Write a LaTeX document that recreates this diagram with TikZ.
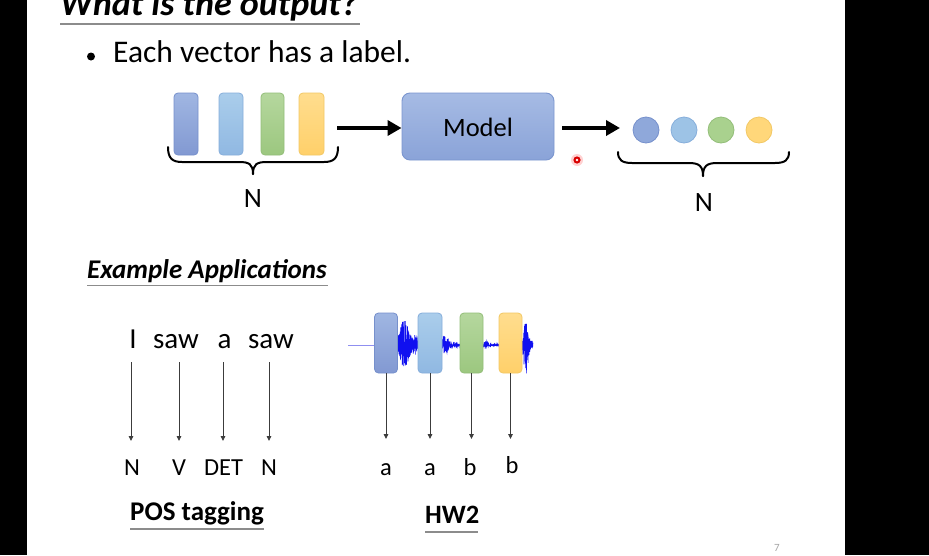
\documentclass[tikz,border=0pt]{standalone}
\usepackage{fontspec}
\setmainfont{Carlito}
\usetikzlibrary{arrows.meta}
\definecolor{cA}{HTML}{8FA8DA}
\definecolor{cAt}{HTML}{A0B6E2}
\definecolor{cAb}{HTML}{8299D2}
\definecolor{cAd}{HTML}{7690CC}
\definecolor{cB}{HTML}{9DC3E6}
\definecolor{cBt}{HTML}{AACDEB}
\definecolor{cBb}{HTML}{90B8E2}
\definecolor{cBd}{HTML}{86AEDB}
\definecolor{cC}{HTML}{A9D18E}
\definecolor{cCt}{HTML}{B5D79E}
\definecolor{cCb}{HTML}{9CC77F}
\definecolor{cCd}{HTML}{93BE79}
\definecolor{cD}{HTML}{FFD77A}
\definecolor{cDt}{HTML}{FFDD8E}
\definecolor{cDb}{HTML}{FFD06A}
\definecolor{cDd}{HTML}{F2C865}
\definecolor{mdl}{HTML}{97AEDD}
\definecolor{mdlt}{HTML}{A6BBE4}
\definecolor{mdlb}{HTML}{8AA3D8}
\definecolor{mdld}{HTML}{7B96CF}
\definecolor{ulgray}{HTML}{8C8C8C}
\definecolor{arrgray}{HTML}{3C3C3C}
\definecolor{wavecol}{HTML}{1010F0}
\definecolor{leadcol}{HTML}{8F8FF0}
\tikzset{
  vecbox/.style={rounded corners=4pt, line width=0.8pt},
  vecA/.style={vecbox, draw=cAd, top color=cAt, bottom color=cAb},
  vecB/.style={vecbox, draw=cBd, top color=cBt, bottom color=cBb},
  vecC/.style={vecbox, draw=cCd, top color=cCt, bottom color=cCb},
  vecD/.style={vecbox, draw=cDd, top color=cDt, bottom color=cDb},
  dotA/.style={circle, minimum size=26pt, inner sep=0pt, draw=cAd, fill=cA, line width=0.8pt},
  dotB/.style={circle, minimum size=26pt, inner sep=0pt, draw=cBd, fill=cB, line width=0.8pt},
  dotC/.style={circle, minimum size=26pt, inner sep=0pt, draw=cCd, fill=cC, line width=0.8pt},
  dotD/.style={circle, minimum size=26pt, inner sep=0pt, draw=cDd, fill=cD, line width=0.8pt},
  bigarrow/.style={line width=3.5pt, -{Triangle[length=14pt,width=15pt]}},
  thinarrow/.style={draw=arrgray, line width=0.9pt, -{Triangle[length=5pt,width=4.5pt]}},
  brace/.style={line width=2pt, line cap=round, line join=round},
  ul/.style={draw=ulgray, line width=1.8pt},
  txt/.style={inner sep=0pt, anchor=base},
  wave/.style={draw=wavecol, line width=0.6pt},
}
\begin{document}
\begin{tikzpicture}[x=1pt,y=-1pt]
\useasboundingbox (0,0) rectangle (929,555);
\fill[white] (0,0) rectangle (929,555);
\fill[black] (0,0) rectangle (27,555);
\fill[black] (845,0) rectangle (929,555);

% Title
\node[txt, anchor=base west] (title) at (60,15) {\fontsize{36}{40}\selectfont\bfseries\itshape What is the output?};
\draw[ul] (60,24) -- (360,24);

% Bullet
\node[circle, fill, inner sep=0pt, minimum size=8pt] (bul) at (91,56.5) {};
\node[txt, anchor=base west] (bullet) at (113,62.5) {\fontsize{31.5}{36}\selectfont Each vector has a label.};

% Input vectors
\draw[vecA] (174,93) rectangle (198,155);
\draw[vecB] (219,93) rectangle (243,155);
\draw[vecC] (261,93) rectangle (284,155);
\draw[vecD] (299,93) rectangle (324,155);
\coordinate (v4r) at (337,128);

% brace 1
\draw[brace] (168,147) .. controls (168,158) and (172,162) .. (182,162) -- (239,162) .. controls (249,162) and (253,164) .. (253,174);
\draw[brace] (338,147) .. controls (338,158) and (334,162) .. (324,162) -- (267,162) .. controls (257,162) and (253,164) .. (253,174);
\node[txt] (n1) at (253,207) {\fontsize{28}{32}\selectfont N};

% Model
\node[rounded corners=8pt, draw=mdld, line width=0.9pt, top color=mdlt, bottom color=mdlb,
      minimum width=152pt, minimum height=67pt, inner sep=0pt] (model) at (478,126.5) {};
\node[txt] (modeltxt) at (478,136) {\fontsize{26.5}{30}\selectfont Model};
\draw[bigarrow] (v4r) -- (model.west |- v4r);
\coordinate (m2) at (562,128);
\coordinate (m2e) at (620,128);
\draw[bigarrow] (m2) -- (m2e);

% output dots
\node[dotA] (o1) at (646,130) {};
\node[dotB] (o2) at (684,130) {};
\node[dotC] (o3) at (721,130) {};
\node[dotD] (o4) at (759,130) {};

% brace 2
\draw[brace] (618,152) .. controls (618,160) and (622,163) .. (632,163) -- (689,163) .. controls (699,163) and (703,166) .. (703,176);
\draw[brace] (789,152) .. controls (789,160) and (785,163) .. (775,163) -- (717,163) .. controls (707,163) and (703,166) .. (703,176);
\node[txt] (n2) at (704,211) {\fontsize{28}{32}\selectfont N};

% laser pointer dot
\fill[red, opacity=0.18] (577,160) circle (6pt);
\fill[red!85!black] (577,160) circle (3.6pt);
\fill[white] (577,160) circle (1.4pt);

% Example Applications
\node[txt, anchor=base west] (ex) at (87,278) {\fontsize{27}{31}\selectfont\bfseries\itshape Example Applications};
\draw[ul] (87,285.5) -- (328,285.5);

% POS tagging
\node[txt] (w1) at (133,348) {\fontsize{29}{33}\selectfont I};
\node[txt] (w2) at (176,348) {\fontsize{29}{33}\selectfont saw};
\node[txt] (w3) at (224.5,348) {\fontsize{29}{33}\selectfont a};
\node[txt] (w4) at (271,348) {\fontsize{29}{33}\selectfont saw};
\node[txt] (t1) at (132,475) {\fontsize{24.5}{28}\selectfont N};
\node[txt] (t2) at (179,475) {\fontsize{24.5}{28}\selectfont V};
\node[txt] (t3) at (223.5,475) {\fontsize{24.5}{28}\selectfont DET};
\node[txt] (t4) at (269,475) {\fontsize{24.5}{28}\selectfont N};
\coordinate (a1s) at (131,362); \coordinate (a1e) at (131,441);
\coordinate (a2s) at (179,362); \coordinate (a2e) at (179,441);
\coordinate (a3s) at (223,362); \coordinate (a3e) at (223,441);
\coordinate (a4s) at (269,362); \coordinate (a4e) at (269,441);
\draw[thinarrow] (a1s) -- (a1e);
\draw[thinarrow] (a2s) -- (a2e);
\draw[thinarrow] (a3s) -- (a3e);
\draw[thinarrow] (a4s) -- (a4e);
\node[txt, anchor=base west] (pos) at (130,520) {\fontsize{27}{31}\selectfont\bfseries POS tagging};
\draw[ul] (130,529) -- (264,529);

% HW2 waveform
\pgfmathsetseed{11}
\draw[draw=leadcol, line width=1pt] (348,345) -- (380,345);
\draw[wave] plot[domain=396:419, samples=220] (\x, {345 + (22*exp(-((\x-404)/6)^2)+7*exp(-((\x-415)/3)^2)+3)*rand});
\draw[wave] plot[domain=441:461, samples=160] (\x, {345 + (8*exp(-((\x-445)/5)^2)+1.2)*rand});
\draw[draw=wavecol, line width=1pt] (441,345) -- (461,345);
\draw[wave] plot[domain=482:500, samples=120] (\x, {345 + (3.5*exp(-((\x-486)/2.5)^2)+0.8)*rand});
\draw[draw=wavecol, line width=1pt] (482,345) -- (500,345);
\draw[wave] plot[domain=521:533, samples=140] (\x, {345 + (27*exp(-((\x-526)/3)^2)+2)*rand});

% HW2 frames
\node[vecA, minimum width=23pt, minimum height=60pt, inner sep=0pt] (h1) at (386,343) {};
\node[vecB, minimum width=24pt, minimum height=60pt, inner sep=0pt] (h2) at (430,343) {};
\node[vecC, minimum width=23pt, minimum height=60pt, inner sep=0pt] (h3) at (471.5,343) {};
\node[vecD, minimum width=23pt, minimum height=60pt, inner sep=0pt] (h4) at (510.5,343) {};
\node[txt] (l1) at (386,475) {\fontsize{24.5}{28}\selectfont a};
\node[txt] (l2) at (430,475) {\fontsize{24.5}{28}\selectfont a};
\node[txt] (l3) at (470,475) {\fontsize{24.5}{28}\selectfont b};
\node[txt] (l4) at (512,473) {\fontsize{24.5}{28}\selectfont b};
\coordinate (b1) at (386,439);
\coordinate (b2) at (430,439);
\coordinate (b3) at (471.5,439);
\coordinate (b4) at (510.5,439);
\draw[thinarrow] (h1.south) -- (b1);
\draw[thinarrow] (h2.south) -- (b2);
\draw[thinarrow] (h3.south) -- (b3);
\draw[thinarrow] (h4.south) -- (b4);
\node[txt, anchor=base west] (hw) at (425,523) {\fontsize{26.5}{31}\selectfont\bfseries HW2};
\draw[ul] (425,532) -- (478,532);

% page number
\node[txt] (pg) at (777,551) {\fontsize{11}{13}\selectfont\color{gray!70}7};
\end{tikzpicture}
\end{document}
